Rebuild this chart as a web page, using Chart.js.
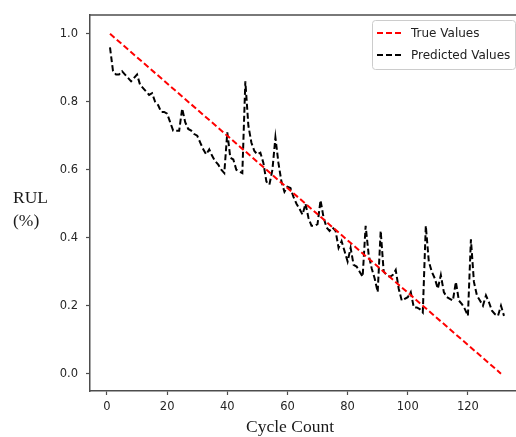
<!DOCTYPE html>
<html>
<head>
<meta charset="utf-8">
<script src="https://cdn.jsdelivr.net/npm/chart.js@4.4.1/dist/chart.umd.min.js"></script>
<style>
    html, body { margin: 0; padding: 0; background: #fff; overflow: hidden; }
    #wrap { width: 516px; height: 437px; overflow: hidden; }
</style>
</head>
<body>
<div id="wrap"><canvas id="rul" width="530" height="437"></canvas></div>
<script>
// Ground truth RUL: straight line from first to last cycle
const trueCycles = [1, 131];
const trueValues = [1.0, 0.0];

// Model prediction, one value per cycle (starting at cycle 1)
const predictedValues = [
    0.96, 0.89, 0.88, 0.88, 0.89, 0.88, 0.87, 0.86, 0.87, 0.88,
    0.85, 0.84, 0.83, 0.82, 0.825, 0.80, 0.79, 0.77, 0.77, 0.765,
    0.74, 0.715, 0.715, 0.715, 0.78, 0.74, 0.72, 0.715, 0.705, 0.70,
    0.68, 0.66, 0.645, 0.66, 0.64, 0.625, 0.615, 0.60, 0.59, 0.71,
    0.635, 0.63, 0.60, 0.595, 0.59, 0.86, 0.73, 0.68, 0.655, 0.645,
    0.65, 0.62, 0.565, 0.556, 0.60, 0.695, 0.62, 0.565, 0.535, 0.55,
    0.546, 0.52, 0.50, 0.485, 0.468, 0.50, 0.458, 0.435, 0.435, 0.44,
    0.51, 0.46, 0.43, 0.42, 0.43, 0.42, 0.37, 0.39, 0.36, 0.33,
    0.37, 0.32, 0.315, 0.30, 0.285, 0.435, 0.35, 0.31, 0.28, 0.24,
    0.42, 0.30, 0.29, 0.285, 0.29, 0.305, 0.25, 0.215, 0.22, 0.225,
    0.24, 0.195, 0.195, 0.19, 0.18, 0.435, 0.33, 0.30, 0.28, 0.25,
    0.29, 0.24, 0.225, 0.22, 0.215, 0.27, 0.215, 0.205, 0.19, 0.17,
    0.395, 0.27, 0.23, 0.215, 0.20, 0.23, 0.21, 0.185, 0.175, 0.17,
    0.20, 0.17
];
const predictedCycles = predictedValues.map((_, i) => i + 1);

const xTicks = [0, 20, 40, 60, 80, 100, 120];
const yTicks = [0.0, 0.2, 0.4, 0.6, 0.8, 1.0];

const SPINE_COLOR = '#4d4d4d';
const TICK_FONT = { family: "'DejaVu Sans', sans-serif", size: 11.5 };

// top spine, the left-hand axis label and the boxed legend (matplotlib look)
const decorations = {
    id: 'decorations',
    afterDraw(chart) {
        const { ctx, chartArea } = chart;
        ctx.save();

        ctx.strokeStyle = SPINE_COLOR;
        ctx.lineWidth = 1.5;
        ctx.beginPath();
        ctx.moveTo(chartArea.left, chartArea.top);
        ctx.lineTo(chartArea.right, chartArea.top);
        ctx.stroke();

        ctx.fillStyle = '#1a1a1a';
        ctx.font = "17.5px 'Liberation Serif', serif";
        ctx.textAlign = 'left';
        ctx.textBaseline = 'alphabetic';
        ctx.fillText('RUL', 13, 203);
        ctx.fillText('(%)', 13, 226);
        ctx.textAlign = 'center';
        ctx.fillText('Cycle Count', 290, 432);

        // legend
        const bx = 372, by = 20, bw = 143, bh = 49;
        ctx.fillStyle = 'rgba(255,255,255,0.85)';
        ctx.strokeStyle = '#cccccc';
        ctx.lineWidth = 1;
        ctx.beginPath();
        ctx.roundRect(bx + 0.5, by + 0.5, bw, bh, 3);
        ctx.fill();
        ctx.stroke();

        ctx.font = "12px 'DejaVu Sans', sans-serif";
        ctx.textAlign = 'left';
        ctx.textBaseline = 'middle';
        chart.data.datasets.forEach((ds, i) => {
            const yPos = by + 13 + i * 22;
            ctx.strokeStyle = ds.borderColor;
            ctx.lineWidth = ds.borderWidth;
            ctx.setLineDash(ds.borderDash);
            ctx.beginPath();
            ctx.moveTo(bx + 5, yPos);
            ctx.lineTo(bx + 29, yPos);
            ctx.stroke();
            ctx.setLineDash([]);
            ctx.fillStyle = '#222';
            ctx.fillText(ds.label, bx + 39, yPos + 1);
        });

        ctx.restore();
    }
};

new Chart(document.getElementById('rul').getContext('2d'), {
    type: 'line',
    data: {
        datasets: [
            {
                label: 'True Values',
                data: trueCycles.map((c, i) => ({ x: c, y: trueValues[i] })),
                borderColor: '#ff0000',
                borderWidth: 2,
                borderDash: [6, 3],
                pointRadius: 0,
                tension: 0,
                fill: false
            },
            {
                label: 'Predicted Values',
                data: predictedCycles.map((c, i) => ({ x: c, y: predictedValues[i] })),
                borderColor: '#000000',
                borderWidth: 2,
                borderDash: [6, 3],
                pointRadius: 0,
                tension: 0,
                fill: false
            }
        ]
    },
    options: {
        responsive: false,
        animation: false,
        devicePixelRatio: 1,
        layout: { padding: { top: 12, left: 0, right: 6, bottom: 0 } },
        plugins: {
            legend: { display: false },
            tooltip: { enabled: false }
        },
        scales: {
            x: {
                type: 'linear',
                min: -5.65,
                max: 138.65,
                afterBuildTicks(scale) {
                    scale.ticks = xTicks.map(v => ({ value: v }));
                },
                afterFit(scale) { scale.height = 46; },
                grid: {
                    drawOnChartArea: false,
                    drawTicks: true,
                    tickLength: 4,
                    tickColor: SPINE_COLOR,
                    tickWidth: 1.2
                },
                border: { display: true, color: SPINE_COLOR, width: 1.5 },
                ticks: {
                    font: TICK_FONT,
                    color: '#262626',
                    padding: 5,
                    maxRotation: 0,
                    callback: v => String(v)
                },
                title: { display: false }
            },
            y: {
                type: 'linear',
                min: -0.051,
                max: 1.0555,
                afterBuildTicks(scale) {
                    scale.ticks = yTicks.map(v => ({ value: v }));
                },
                afterFit(scale) { scale.width = 90; },
                grid: {
                    drawOnChartArea: false,
                    drawTicks: true,
                    tickLength: 4,
                    tickColor: SPINE_COLOR,
                    tickWidth: 1.2
                },
                border: { display: true, color: SPINE_COLOR, width: 1.5 },
                ticks: {
                    font: TICK_FONT,
                    color: '#262626',
                    padding: 8,
                    callback: v => Number(v).toFixed(1)
                },
                title: { display: false }
            }
        }
    },
    plugins: [decorations]
});
</script>
</body>
</html>
